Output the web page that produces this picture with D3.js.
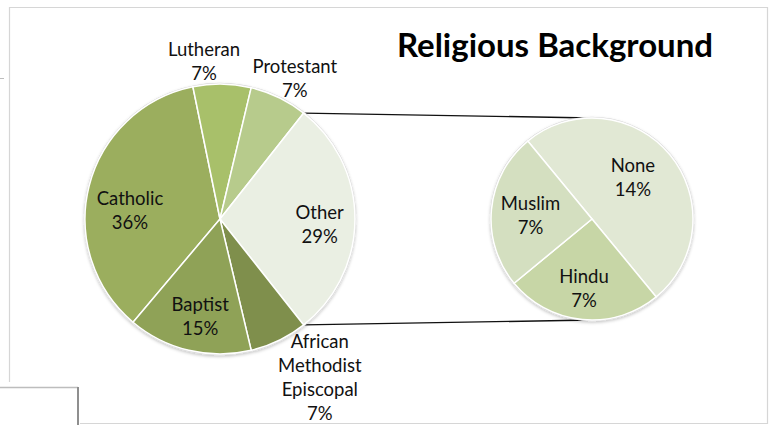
<!DOCTYPE html>
<html>
<head>
<meta charset="utf-8">
<script src="https://cdn.jsdelivr.net/npm/d3@7"></script>
<style>
  html, body { margin: 0; padding: 0; background: #fff; }
  svg { display: block; }
  text { font-family: Lato, "Open Sans", sans-serif; fill: #111; }
</style>
</head>
<body>
<svg id="chart" width="769" height="425"></svg>
<script>
// Religious background, pie of pie
const mainLabels = ["Catholic", "Lutheran", "Protestant", "Other", "African Methodist Episcopal", "Baptist"];
const mainValues = [36, 7, 7, 29, 7, 15];
const subLabels = ["None", "Hindu", "Muslim"];
const subValues = [14, 7, 7];
const splitCategory = "Other";

const mainColors = ["#9bae5e", "#a8c06a", "#b7cb8c", "#eaefe3", "#7f8f4c", "#8fa257"];
const subColors = ["#e1e8d4", "#c7d6a6", "#d4dfc0"];

// label placement: radius as fraction of pie radius, angle offset in degrees
const mainLabelLayout = {
  "Catholic": { r: 0.67, da: -8.6 },
  "Lutheran": { r: 1.17, da: -6.7 },
  "Protestant": { r: 1.18, da: 2.2 },
  "Other": { r: 0.74, da: 3.4 },
  "African Methodist Episcopal": { r: 1.39, da: -6.3 },
  "Baptist": { r: 0.74, da: -1.9 }
};
const subLabelLayout = {
  "None": { r: 0.58, da: -6.2 },
  "Hindu": { r: 0.69, da: 1.1 },
  "Muslim": { r: 0.61, da: -1.8 }
};

const svg = d3.select("#chart");
const deg = Math.PI / 180;

// frame lines of the surrounding sheet
const frame = svg.append("g").attr("fill", "none");
frame.append("path").attr("d", "M9.5,382 V7.5 H767.5 V423.5 H80").attr("stroke", "#d6d6d6").attr("stroke-width", 1.2);
frame.append("path").attr("d", "M0,387.5 H78").attr("stroke", "#bdbdbd").attr("stroke-width", 1.5);
frame.append("path").attr("d", "M78,387 V425").attr("stroke", "#8f8f8f").attr("stroke-width", 2);
frame.append("path").attr("d", "M0,78.5 H4").attr("stroke", "#bdbdbd").attr("stroke-width", 1);

const defs = svg.append("defs");
const shadow = defs.append("filter").attr("id", "pieShadow").attr("x", "-10%").attr("y", "-10%").attr("width", "120%").attr("height", "125%");
shadow.append("feDropShadow").attr("dx", 0).attr("dy", 1.5).attr("stdDeviation", 1.6)
  .attr("flood-color", "#000").attr("flood-opacity", 0.22);

// pie geometry
const main = { cx: 220, cy: 219, r: 135 };
const sub = { cx: 592, cy: 219, r: 101, start: -39.5 };

const total = d3.sum(mainValues);
const splitIdx = mainLabels.indexOf(splitCategory);
const before = d3.sum(mainValues.slice(0, splitIdx));
// rotate so the split slice is centred on the right-hand side
const mainStart = Math.PI / 2 - (before + mainValues[splitIdx] / 2) / total * 2 * Math.PI;

const mainPie = d3.pie().sort(null).value(d => d.value)
  .startAngle(mainStart).endAngle(mainStart + 2 * Math.PI);
const mainData = mainPie(mainLabels.map((name, i) => ({ name, value: mainValues[i], color: mainColors[i] })));

const subPie = d3.pie().sort(null).value(d => d.value)
  .startAngle(sub.start * deg).endAngle(sub.start * deg + 2 * Math.PI);
const subData = subPie(subLabels.map((name, i) => ({ name, value: subValues[i], color: subColors[i] })));

// connector lines between the split slice and the secondary pie
const split = mainData[splitIdx];
const pt = (c, a, r) => [c.cx + r * Math.sin(a), c.cy - r * Math.cos(a)];
const [x1, y1] = pt(main, split.startAngle, main.r);
const [x2, y2] = pt(main, split.endAngle, main.r);
svg.append("line").attr("x1", x1).attr("y1", y1).attr("x2", sub.cx).attr("y2", sub.cy - sub.r)
  .attr("stroke", "#111").attr("stroke-width", 1.4);
svg.append("line").attr("x1", x2).attr("y1", y2).attr("x2", sub.cx).attr("y2", sub.cy + sub.r)
  .attr("stroke", "#111").attr("stroke-width", 1.4);

function drawPie(c, data, layout) {
  const g = svg.append("g").attr("transform", `translate(${c.cx},${c.cy})`);
  g.append("circle").attr("r", c.r + 0.5).attr("fill", "#fff")
    .attr("stroke", "#d9d9d9").attr("stroke-width", 1.5).attr("filter", "url(#pieShadow)");
  const arc = d3.arc().innerRadius(0).outerRadius(c.r);
  g.selectAll("path.slice").data(data).join("path")
    .attr("class", "slice")
    .attr("d", arc)
    .attr("fill", d => d.data.color)
    .attr("stroke", "#fff").attr("stroke-width", 1.5).attr("stroke-linejoin", "round");

  const lineH = 24;
  g.selectAll("text.label").data(data).join("text")
    .attr("class", "label")
    .attr("text-anchor", "middle")
    .attr("font-size", 18.5)
    .each(function (d) {
      const L = layout[d.data.name];
      const a = (d.startAngle + d.endAngle) / 2 + L.da * deg;
      const rr = L.r * c.r;
      const x = rr * Math.sin(a), y = -rr * Math.cos(a);
      const lines = d.data.name.split(" ").concat([d.data.value + "%"]);
      const t = d3.select(this);
      lines.forEach((s, i) => {
        t.append("tspan").attr("x", x)
          .attr("y", y + (i - (lines.length - 1) / 2) * lineH)
          .attr("dy", "0.35em").text(s);
      });
    });
}

drawPie(main, mainData, mainLabelLayout);
drawPie(sub, subData, subLabelLayout);

svg.append("text").attr("x", 555).attr("y", 57).attr("text-anchor", "middle")
  .attr("font-size", 33).attr("font-weight", 700).style("fill", "#000")
  .text("Religious Background");
</script>
</body>
</html>
